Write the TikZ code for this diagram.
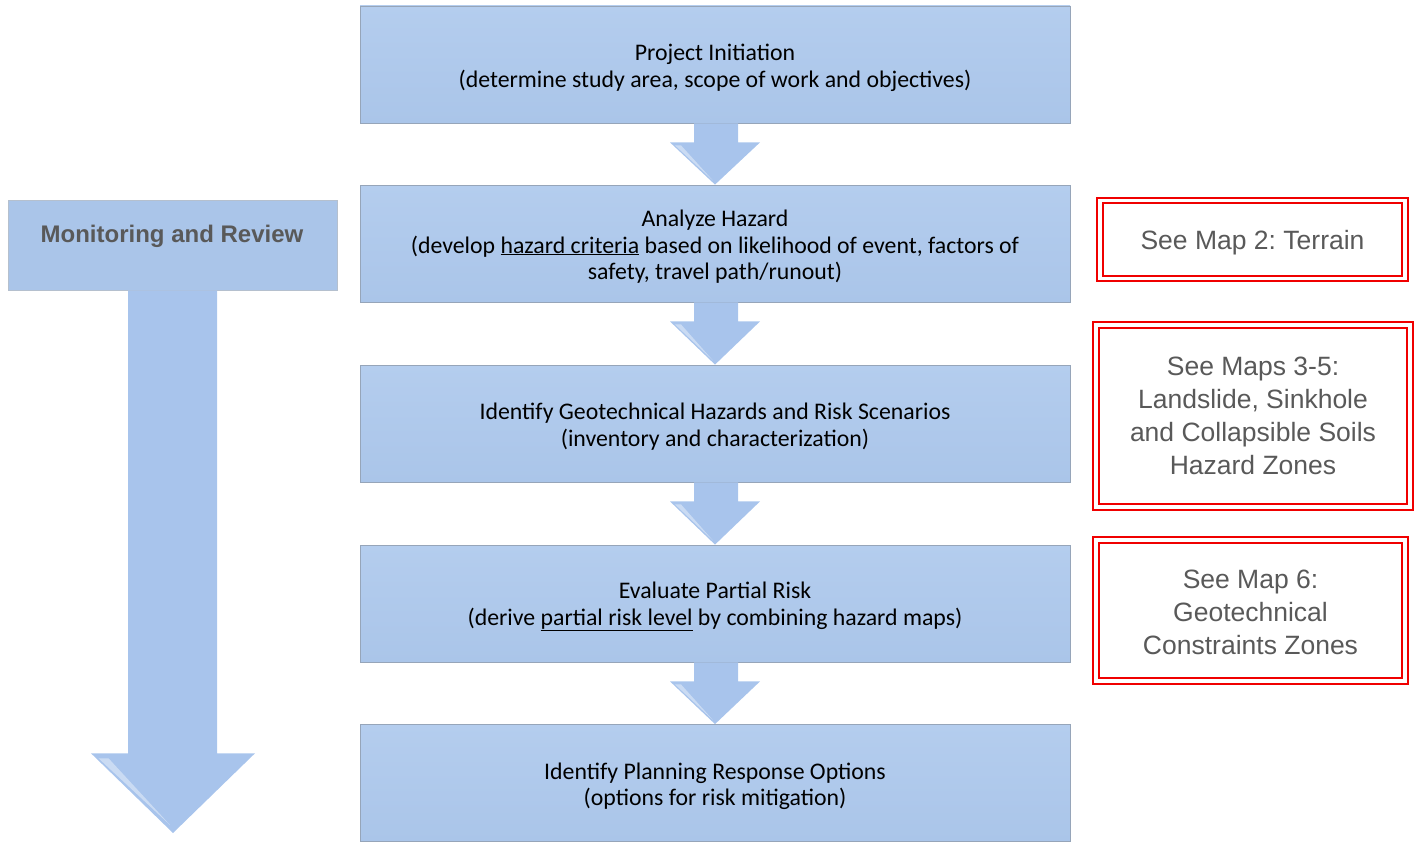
\documentclass[tikz,border=0pt]{standalone}
\usepackage{fontspec}
\setmainfont{Carlito}
\newfontfamily\arialfont{Liberation Sans}
\usetikzlibrary{calc}
\frenchspacing
\newcommand{\tstrut}{\rule{0pt}{23pt}}
\newcommand{\mstrut}{\rule{0pt}{26pt}}
\definecolor{boxblue}{RGB}{170,197,233}
\definecolor{boxtop}{RGB}{180,205,238}
\definecolor{boxedge}{RGB}{150,165,185}
\definecolor{arrblue}{RGB}{168,196,236}
\definecolor{greytext}{RGB}{89,89,89}
\definecolor{mapred}{RGB}{240,0,0}
\tikzset{
  stepbox/.style={draw=boxedge, line width=0.8pt, top color=boxtop, bottom color=boxblue,
    minimum width=710pt, minimum height=117pt, inner sep=0pt, align=center,
    font=\fontsize{23.8}{26.5}\selectfont, text=black},
  monbox/.style={draw=boxedge!70, line width=0.6pt, fill=boxblue, minimum width=329pt, minimum height=90pt, inner sep=0pt},
  montext/.style={font=\arialfont\bfseries\fontsize{24}{28}\selectfont, text=greytext},
  mapbox/.style={draw=mapred, double=white, double distance=3.2pt, line width=2pt, inner sep=0pt,
    align=center, text=greytext, font=\arialfont\fontsize{26.5}{33}\selectfont},
  arrfill/.style={fill=arrblue, draw=none}
}
\begin{document}
\begin{tikzpicture}[x=1pt,y=-1pt]
\useasboundingbox (0,0) rectangle (1416,843);
% main steps
\node[stepbox] (b1) at (715,64.5) {\tstrut Project Initiation\\(determine study area, scope of work and objectives)};
\node[stepbox] (b2) at (715,243.5) {\tstrut Analyze Hazard\\(develop \underline{hazard criteria} based on likelihood of event, factors of\\safety, travel path/runout)};
\node[stepbox] (b3) at (715,423.5) {\tstrut Identify Geotechnical Hazards and Risk Scenarios\\(inventory and characterization)};
\node[stepbox] (b4) at (715,603.5) {\tstrut Evaluate Partial Risk\\(derive \underline{partial risk level} by combining hazard maps)};
\node[stepbox] (b5) at (715,783) {\tstrut Identify Planning Response Options\\(options for risk mitigation)};
% arrows between steps
\foreach \a/\b in {b1/b2,b2/b3,b3/b4,b4/b5}{
  \fill[arrfill] ($(\a.south)+(-21,0)$) -- ($(\a.south)+(23,0)$) -- ($(\a.south)+(23,19)$)
     -- ($(\a.south)+(45,19)$) -- (\b.north) -- ($(\a.south)+(-45,19)$) -- ($(\a.south)+(-21,19)$) -- cycle;
  \fill[white,opacity=0.4] ($(\a.south)+(-40,22)$) -- ($(\a.south)+(-34,22)$) -- ($(\b.north)+(-2,-4)$) -- cycle;
}
% monitoring and review
\node[monbox] (mon) at (172.5,245) {};
\fill[arrfill] ($(mon.south)+(-44.5,0)$) -- ($(mon.south)+(44.5,0)$) -- ($(mon.south)+(44.5,463)$)
   -- ($(mon.south)+(82.5,463)$) coordinate (mr) -- (173,833) coordinate (mtip) -- ($(mon.south)+(-81.5,463)$) -- ($(mon.south)+(-44.5,463)$) -- cycle;
\fill[white,opacity=0.4] ($(mon.south)+(-74,468)$) -- ($(mon.south)+(-64,468)$) -- ($(mtip)+(-3,-8)$) -- cycle;
\node[montext] (mont) at (172,236) {Monitoring and Review};
% map references
\node[mapbox, minimum width=305pt, minimum height=78pt] (m2) at (1252.5,239.5) {\mstrut See Map 2: Terrain};
\node[mapbox, minimum width=314pt, minimum height=182pt] (m35) at (1253,416) {See Maps 3-5:\\Landslide, Sinkhole\\and Collapsible Soils\\Hazard Zones};
\node[mapbox, minimum width=309pt, minimum height=141pt] (m6) at (1250.5,610.5) {\rule{0pt}{22pt}See Map 6:\\Geotechnical\\Constraints Zones};
\end{tikzpicture}
\end{document}
